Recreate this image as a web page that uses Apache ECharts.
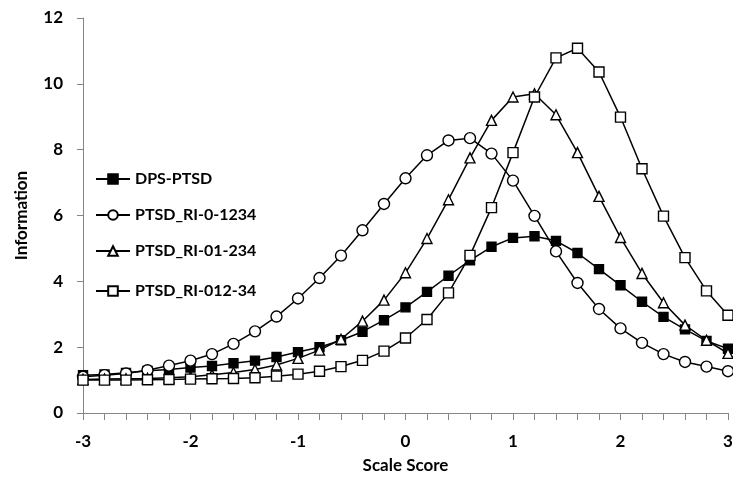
<!DOCTYPE html>
<html>
<head>
<meta charset="utf-8">
<script src="https://cdn.jsdelivr.net/npm/echarts@6/dist/echarts.min.js"></script>
<style>
html,body{margin:0;padding:0;background:#fff;}
#chart{width:733px;height:477px;}
</style>
</head>
<body>
<div id="chart"></div>
<script>
var scaleScores = [-3,-2.8,-2.6,-2.4,-2.2,-2,-1.8,-1.6,-1.4,-1.2,-1,-0.8,-0.6,-0.4,-0.2,0,0.2,0.4,0.6,0.8,1,1.2,1.4,1.6,1.8,2,2.2,2.4,2.6,2.8,3];
var seriesNames = ["DPS-PTSD","PTSD_RI-0-1234","PTSD_RI-01-234","PTSD_RI-012-34"];
var dpsPtsd = [1.15,1.17,1.22,1.28,1.32,1.38,1.43,1.51,1.59,1.70,1.85,2.00,2.21,2.47,2.82,3.21,3.68,4.17,4.64,5.05,5.32,5.37,5.23,4.86,4.37,3.88,3.38,2.92,2.54,2.19,1.95];
var ri0_1234 = [1.10,1.15,1.20,1.30,1.44,1.59,1.79,2.10,2.48,2.93,3.48,4.10,4.78,5.55,6.35,7.13,7.83,8.28,8.35,7.88,7.06,5.99,4.91,3.95,3.16,2.57,2.13,1.79,1.55,1.41,1.27];
var ri01_234 = [1.02,1.03,1.04,1.05,1.07,1.10,1.16,1.23,1.32,1.46,1.66,1.91,2.24,2.79,3.43,4.26,5.30,6.48,7.75,8.89,9.60,9.70,9.06,7.91,6.58,5.33,4.24,3.35,2.67,2.21,1.81];
var ri012_34 = [1.00,1.00,1.00,1.01,1.02,1.03,1.04,1.05,1.07,1.12,1.18,1.27,1.41,1.60,1.88,2.28,2.84,3.65,4.79,6.24,7.91,9.60,10.79,11.08,10.36,8.99,7.42,5.98,4.72,3.71,2.97];
var yTicks = [0,2,4,6,8,10,12];
var xTickLabels = [-3,-2,-1,0,1,2,3];

function pairs(vals){ return scaleScores.map(function(x,i){ return [x, vals[i]]; }); }

var FONT = 'Lato, "Open Sans", sans-serif';
var AXIS = '#868686';
var chart = echarts.init(document.getElementById('chart'), null, {renderer:'canvas'});

var symbolDefs = [
  {symbol:'rect', size:9, fill:'#000'},
  {symbol:'circle', size:11, fill:'#fff'},
  {symbol:'triangle', size:10, fill:'#fff'},
  {symbol:'rect', size:10, fill:'#fff'}
];
var allVals = [dpsPtsd, ri0_1234, ri01_234, ri012_34];
var series = allVals.map(function(v, i){
  var s = symbolDefs[i];
  return {
    name: seriesNames[i],
    type: 'line',
    data: pairs(v),
    symbol: s.symbol,
    symbolSize: s.size,
    showAllSymbol: true,
    lineStyle: {color:'#000', width:1.5},
    itemStyle: {color: s.fill, borderColor:'#000', borderWidth:1.4},
    emphasis: {disabled:true},
    animation: false,
    z: 2 + i
  };
});

var legendTops = [166, 202, 238, 278];
var legends = seriesNames.map(function(n, i){
  return {
    data: [n],
    left: 90,
    top: legendTops[i],
    orient: 'vertical',
    itemWidth: 34,
    itemHeight: 12,
    itemGap: 4,
    textStyle: {fontFamily: FONT, fontWeight:'bold', fontSize:16, color:'#000'},
    selectedMode: false
  };
});

chart.setOption({
  animation: false,
  backgroundColor: '#fff',
  grid: {left: 83, right: 5, top: 18, bottom: 64, outerBoundsMode: 'none', containLabel: false},
  legend: legends,
  xAxis: {
    type: 'value',
    min: -3, max: 3, interval: 0.2,
    name: 'Scale Score',
    nameLocation: 'middle',
    nameGap: 44,
    nameTextStyle: {fontFamily: FONT, fontWeight:'bold', fontSize:17, color:'#000'},
    axisLine: {show:true, onZero:false, lineStyle:{color:AXIS, width:1}},
    axisTick: {show:true, length:7, inside:false, lineStyle:{color:AXIS}},
    splitLine: {show:false},
    axisLabel: {
      margin: 20,
      fontFamily: FONT, fontWeight:'bold', fontSize:17, color:'#000',
      showMinLabel: true, showMaxLabel: true, hideOverlap: false,
      formatter: function(v){
        var r = Math.round(v);
        if (Math.abs(v - r) < 1e-6 && xTickLabels.indexOf(r) >= 0) return String(r);
        return '';
      }
    }
  },
  yAxis: {
    type: 'value',
    min: yTicks[0], max: yTicks[yTicks.length-1], interval: 2,
    name: 'Information',
    nameLocation: 'middle',
    nameGap: 53,
    nameTextStyle: {fontFamily: FONT, fontWeight:'bold', fontSize:17, color:'#000'},
    axisLine: {show:true, onZero:false, lineStyle:{color:AXIS, width:1}},
    axisTick: {show:true, length:6, inside:false, lineStyle:{color:AXIS}},
    splitLine: {show:false},
    axisLabel: {margin: 20, fontFamily: FONT, fontWeight:'bold', fontSize:17, color:'#000'}
  },
  series: series
});
</script>
</body>
</html>
